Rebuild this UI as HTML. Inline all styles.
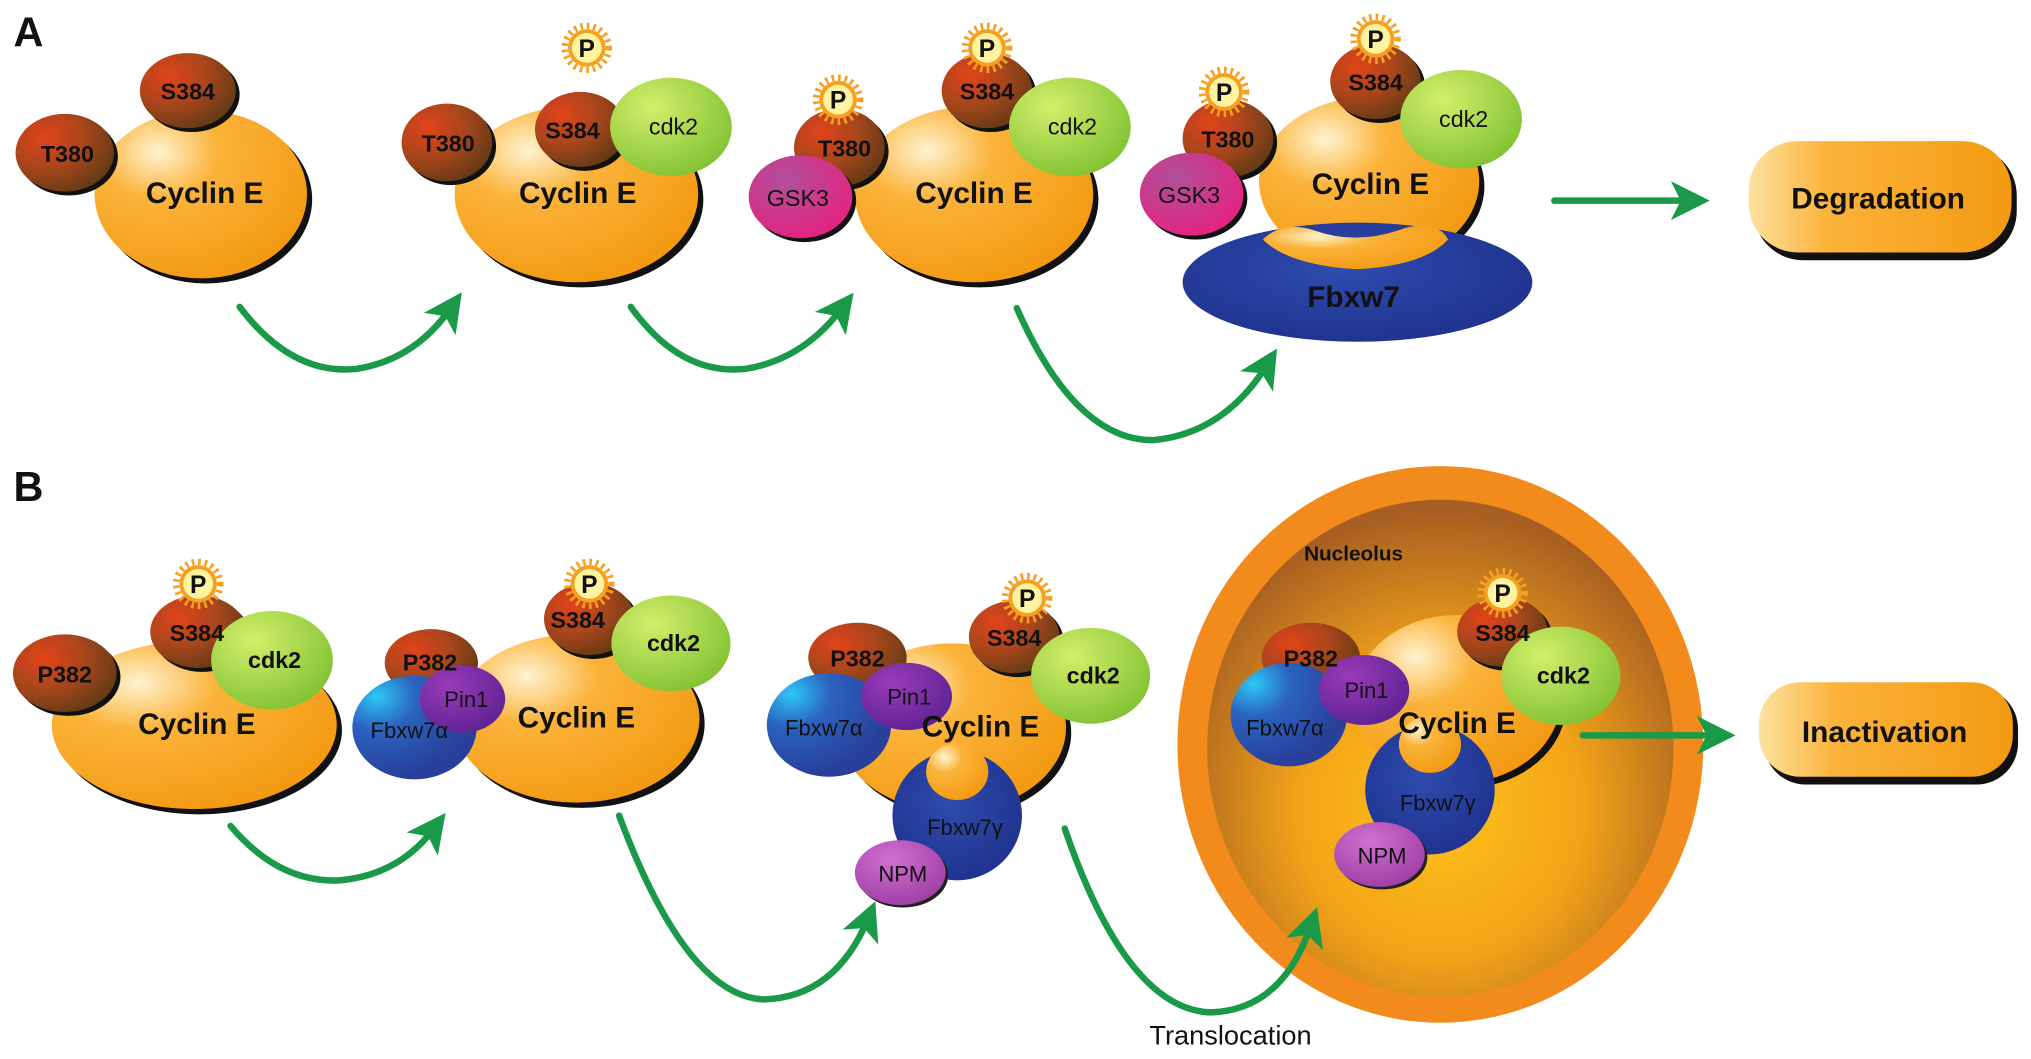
<!DOCTYPE html>
<html><head><meta charset="utf-8"><style>
html,body{margin:0;padding:0;background:#fff;}
svg{display:block;}
text{font-family:"Liberation Sans",sans-serif;font-weight:bold;fill:#111;text-anchor:middle;}
</style></head><body>
<svg width="2031" height="1059" viewBox="0 0 1568 818" preserveAspectRatio="none" xmlns="http://www.w3.org/2000/svg">
<defs>
<radialGradient id="cy" cx="0.3" cy="0.25" r="0.8"><stop offset="0" stop-color="#fff3d0"/><stop offset="0.35" stop-color="#fbb33a"/><stop offset="1" stop-color="#f39a12"/></radialGradient>
<radialGradient id="br" cx="0.3" cy="0.3" r="0.8"><stop offset="0" stop-color="#e2431a"/><stop offset="0.5" stop-color="#a8461c"/><stop offset="1" stop-color="#5e3a14"/></radialGradient>
<radialGradient id="gr" cx="0.35" cy="0.3" r="0.8"><stop offset="0" stop-color="#d4ee6a"/><stop offset="1" stop-color="#7cc030"/></radialGradient>
<radialGradient id="mg" cx="0.35" cy="0.3" r="0.8"><stop offset="0" stop-color="#b0509a"/><stop offset="1" stop-color="#e8207e"/></radialGradient>
<radialGradient id="bl" cx="0.45" cy="0.4" r="0.7"><stop offset="0" stop-color="#2e4cae"/><stop offset="1" stop-color="#1d2f8a"/></radialGradient>
<radialGradient id="fa" cx="0.2" cy="0.2" r="0.8"><stop offset="0" stop-color="#2ec8f4"/><stop offset="0.4" stop-color="#2b62c0"/><stop offset="1" stop-color="#28409a"/></radialGradient>
<radialGradient id="pu" cx="0.35" cy="0.3" r="0.8"><stop offset="0" stop-color="#9a3ab8"/><stop offset="1" stop-color="#5a2290"/></radialGradient>
<radialGradient id="np" cx="0.4" cy="0.3" r="0.8"><stop offset="0" stop-color="#d070d0"/><stop offset="1" stop-color="#9a3aa0"/></radialGradient>
<radialGradient id="nu" cx="0.5" cy="0.62" r="0.6"><stop offset="0" stop-color="#ffc21a"/><stop offset="0.5" stop-color="#f2a418"/><stop offset="1" stop-color="#a65e22"/></radialGradient>
<linearGradient id="pill" x1="0" y1="0" x2="1" y2="0"><stop offset="0" stop-color="#fde2a0"/><stop offset="0.3" stop-color="#fbb33a"/><stop offset="1" stop-color="#f39a12"/></linearGradient>
<marker id="ah" markerWidth="6" markerHeight="6" refX="3" refY="3" orient="auto" markerUnits="strokeWidth"><path d="M0,0 L6,3 L0,6 L1.5,3 Z" fill="#1a9a48"/></marker>
</defs>

<text x="22" y="36" style="font-size:32px;font-weight:bold">A</text>
<text x="22" y="387" style="font-size:32px;font-weight:bold">B</text>

<!-- A1 -->
<ellipse cx="159" cy="154" rx="82" ry="65" fill="#111"/>
<ellipse cx="155" cy="150" rx="82" ry="65" fill="url(#cy)"/>
<ellipse cx="148" cy="73" rx="37" ry="29" fill="#111"/><ellipse cx="145" cy="70" rx="37" ry="29" fill="url(#br)"/>
<ellipse cx="53" cy="121" rx="38" ry="30" fill="#111"/><ellipse cx="50" cy="118" rx="38" ry="30" fill="url(#br)"/>
<text x="145" y="77" font-size="18">S384</text><text x="52" y="125" font-size="18">T380</text>
<text x="158" y="157" font-size="23">Cyclin E</text>

<!-- A2 -->
<ellipse cx="449" cy="154" rx="94" ry="68" fill="#111"/><ellipse cx="445" cy="150" rx="94" ry="68" fill="url(#cy)"/>
<ellipse cx="451" cy="103" rx="35" ry="29" fill="#111"/><ellipse cx="448" cy="100" rx="35" ry="29" fill="url(#br)"/>
<ellipse cx="348" cy="113" rx="35" ry="30" fill="#111"/><ellipse cx="345" cy="110" rx="35" ry="30" fill="url(#br)"/>
<ellipse cx="518" cy="98" rx="47" ry="38" fill="url(#gr)"/>
<text x="442" y="107" font-size="18">S384</text><text x="346" y="117" font-size="18">T380</text><text x="520" y="104" font-size="18" style="font-weight:normal">cdk2</text>
<text x="446" y="157" font-size="23">Cyclin E</text>

<!-- A3 -->
<ellipse cx="756" cy="154" rx="92" ry="68" fill="#111"/><ellipse cx="752" cy="150" rx="92" ry="68" fill="url(#cy)"/>
<ellipse cx="765" cy="73" rx="35" ry="29" fill="#111"/><ellipse cx="762" cy="70" rx="35" ry="29" fill="url(#br)"/>
<ellipse cx="651" cy="117" rx="35" ry="30" fill="#111"/><ellipse cx="648" cy="114" rx="35" ry="30" fill="url(#br)"/>
<ellipse cx="826" cy="98" rx="47" ry="38" fill="url(#gr)"/>
<ellipse cx="621" cy="155" rx="40" ry="32" fill="#111"/><ellipse cx="618" cy="152" rx="40" ry="32" fill="url(#mg)"/>
<text x="762" y="77" font-size="18">S384</text><text x="652" y="121" font-size="18">T380</text><text x="828" y="104" font-size="18" style="font-weight:normal">cdk2</text>
<text x="616" y="159" font-size="18" style="font-weight:normal">GSK3</text>
<text x="752" y="157" font-size="23">Cyclin E</text>

<!-- A4 -->
<ellipse cx="1061" cy="144" rx="85" ry="65" fill="#111"/><ellipse cx="1057" cy="140" rx="85" ry="65" fill="url(#cy)"/>
<ellipse cx="1048" cy="218" rx="135" ry="46" fill="url(#bl)"/>
<path d="M975,185 Q990,170 1015,178 Q1048,190 1085,176 Q1110,170 1118,185 Q1100,205 1048,208 Q995,205 975,185 Z" fill="url(#cy)"/>
<ellipse cx="1065" cy="66" rx="35" ry="29" fill="#111"/><ellipse cx="1062" cy="63" rx="35" ry="29" fill="url(#br)"/>
<ellipse cx="951" cy="110" rx="35" ry="30" fill="#111"/><ellipse cx="948" cy="107" rx="35" ry="30" fill="url(#br)"/>
<ellipse cx="1128" cy="92" rx="47" ry="38" fill="url(#gr)"/>
<ellipse cx="923" cy="153" rx="40" ry="32" fill="#111"/><ellipse cx="920" cy="150" rx="40" ry="32" fill="url(#mg)"/>
<text x="1062" y="70" font-size="18">S384</text><text x="948" y="114" font-size="18">T380</text><text x="1130" y="98" font-size="18" style="font-weight:normal">cdk2</text>
<text x="918" y="157" font-size="18" style="font-weight:normal">GSK3</text>
<text x="1058" y="150" font-size="23">Cyclin E</text>
<text x="1045" y="237" font-size="23">Fbxw7</text>

<!-- pills -->
<rect x="1354" y="113" width="203" height="88" rx="38" fill="#111"/>
<rect x="1350" y="109" width="203" height="86" rx="38" fill="url(#pill)"/>
<text x="1450" y="161" font-size="23">Degradation</text>
<rect x="1362" y="531" width="196" height="75" rx="32" fill="#111"/>
<rect x="1358" y="527" width="196" height="73" rx="32" fill="url(#pill)"/>
<text x="1455" y="573" font-size="23">Inactivation</text>

<!-- B1 -->
<ellipse cx="154" cy="564" rx="110" ry="65" fill="#111"/><ellipse cx="150" cy="560" rx="110" ry="65" fill="url(#cy)"/>
<ellipse cx="156" cy="491" rx="37" ry="28" fill="#111"/><ellipse cx="153" cy="488" rx="37" ry="28" fill="url(#br)"/>
<ellipse cx="53" cy="523" rx="40" ry="30" fill="#111"/><ellipse cx="50" cy="520" rx="40" ry="30" fill="url(#br)"/>
<ellipse cx="210" cy="510" rx="47" ry="38" fill="url(#gr)"/>
<text x="152" y="495" font-size="18">S384</text><text x="50" y="527" font-size="18">P382</text><text x="212" y="516" font-size="18">cdk2</text>
<text x="152" y="567" font-size="23">Cyclin E</text>

<!-- B2 -->
<ellipse cx="449" cy="559" rx="95" ry="65" fill="#111"/><ellipse cx="445" cy="555" rx="95" ry="65" fill="url(#cy)"/>
<ellipse cx="458" cy="481" rx="35" ry="28" fill="#111"/><ellipse cx="455" cy="478" rx="35" ry="28" fill="url(#br)"/>
<ellipse cx="518" cy="497" rx="46" ry="37" fill="url(#gr)"/>
<ellipse cx="333" cy="512" rx="36" ry="26" fill="url(#br)"/>
<ellipse cx="320" cy="562" rx="48" ry="40" fill="url(#fa)"/>
<ellipse cx="357" cy="540" rx="33" ry="26" fill="url(#pu)"/>
<text x="446" y="485" font-size="18">S384</text><text x="332" y="518" font-size="18">P382</text><text x="520" y="503" font-size="18">cdk2</text>
<text x="360" y="546" font-size="17" style="font-weight:normal">Pin1</text><text x="316" y="570" font-size="17" style="font-weight:normal">Fbxw7α</text>
<text x="445" y="562" font-size="23">Cyclin E</text>

<!-- B3 -->
<ellipse cx="739" cy="566" rx="88" ry="65" fill="#111"/><ellipse cx="735" cy="562" rx="88" ry="65" fill="url(#cy)"/>
<ellipse cx="786" cy="495" rx="35" ry="28" fill="#111"/><ellipse cx="783" cy="492" rx="35" ry="28" fill="url(#br)"/>
<ellipse cx="842" cy="522" rx="46" ry="37" fill="url(#gr)"/>
<ellipse cx="662" cy="508" rx="38" ry="27" fill="url(#br)"/>
<ellipse cx="640" cy="560" rx="48" ry="40" fill="url(#fa)"/>
<ellipse cx="700" cy="538" rx="35" ry="26" fill="url(#pu)"/>
<circle cx="739" cy="630" r="50" fill="url(#bl)"/>
<ellipse cx="739" cy="596" rx="24" ry="22" fill="url(#cy)"/>
<ellipse cx="697" cy="676" rx="35" ry="25" fill="#222"/><ellipse cx="695" cy="674" rx="35" ry="25" fill="url(#np)"/>
<text x="783" y="499" font-size="18">S384</text><text x="662" y="515" font-size="18">P382</text><text x="844" y="528" font-size="18">cdk2</text>
<text x="702" y="544" font-size="17" style="font-weight:normal">Pin1</text><text x="636" y="568" font-size="17" style="font-weight:normal">Fbxw7α</text>
<text x="757" y="569" font-size="23">Cyclin E</text>
<text x="745" y="645" font-size="17" style="font-weight:normal">Fbxw7γ</text><text x="697" y="681" font-size="17" style="font-weight:normal">NPM</text>

<!-- Nucleolus -->
<ellipse cx="1112" cy="575" rx="203" ry="215" fill="#f28a1c"/>
<ellipse cx="1112" cy="578" rx="180" ry="192" fill="url(#nu)"/>
<text x="1045" y="433" font-size="16">Nucleolus</text>
<ellipse cx="1129" cy="544" rx="80" ry="65" fill="#111"/><ellipse cx="1125" cy="540" rx="80" ry="65" fill="url(#cy)"/>
<ellipse cx="1163" cy="491" rx="35" ry="27" fill="#111"/><ellipse cx="1160" cy="488" rx="35" ry="27" fill="url(#br)"/>
<ellipse cx="1205" cy="522" rx="46" ry="38" fill="url(#gr)"/>
<ellipse cx="1012" cy="508" rx="38" ry="27" fill="url(#br)"/>
<ellipse cx="995" cy="552" rx="45" ry="40" fill="url(#fa)"/>
<ellipse cx="1053" cy="533" rx="35" ry="27" fill="url(#pu)"/>
<circle cx="1104" cy="610" r="50" fill="url(#bl)"/>
<ellipse cx="1104" cy="575" rx="24" ry="22" fill="url(#cy)"/>
<ellipse cx="1067" cy="662" rx="35" ry="25" fill="#222"/><ellipse cx="1065" cy="660" rx="35" ry="25" fill="url(#np)"/>
<text x="1160" y="495" font-size="18">S384</text><text x="1012" y="515" font-size="18">P382</text><text x="1207" y="528" font-size="18">cdk2</text>
<text x="1055" y="539" font-size="17" style="font-weight:normal">Pin1</text><text x="992" y="568" font-size="17" style="font-weight:normal">Fbxw7α</text>
<text x="1125" y="566" font-size="23">Cyclin E</text>
<text x="1110" y="626" font-size="17" style="font-weight:normal">Fbxw7γ</text><text x="1067" y="667" font-size="17" style="font-weight:normal">NPM</text>

<text x="950" y="807" font-size="21" style="font-weight:normal">Translocation</text>

<!-- P suns -->
<g fill="#fff3a0" stroke="#f5a020">
<circle cx="453" cy="37" r="13" stroke-width="3"/><circle cx="453" cy="37" r="17" fill="none" stroke-width="5" stroke-dasharray="2 3"/>
<circle cx="762" cy="37" r="13" stroke-width="3"/><circle cx="762" cy="37" r="17" fill="none" stroke-width="5" stroke-dasharray="2 3"/>
<circle cx="647" cy="77" r="13" stroke-width="3"/><circle cx="647" cy="77" r="17" fill="none" stroke-width="5" stroke-dasharray="2 3"/>
<circle cx="1062" cy="30" r="13" stroke-width="3"/><circle cx="1062" cy="30" r="17" fill="none" stroke-width="5" stroke-dasharray="2 3"/>
<circle cx="945" cy="71" r="13" stroke-width="3"/><circle cx="945" cy="71" r="17" fill="none" stroke-width="5" stroke-dasharray="2 3"/>
<circle cx="153" cy="451" r="13" stroke-width="3"/><circle cx="153" cy="451" r="17" fill="none" stroke-width="5" stroke-dasharray="2 3"/>
<circle cx="455" cy="451" r="13" stroke-width="3"/><circle cx="455" cy="451" r="17" fill="none" stroke-width="5" stroke-dasharray="2 3"/>
<circle cx="793" cy="462" r="13" stroke-width="3"/><circle cx="793" cy="462" r="17" fill="none" stroke-width="5" stroke-dasharray="2 3"/>
<circle cx="1160" cy="458" r="13" stroke-width="3"/><circle cx="1160" cy="458" r="17" fill="none" stroke-width="5" stroke-dasharray="2 3"/>
</g>
<g font-size="19">
<text x="453" y="44">P</text><text x="762" y="44">P</text><text x="647" y="84">P</text><text x="1062" y="37">P</text><text x="945" y="78">P</text>
<text x="153" y="458">P</text><text x="455" y="458">P</text><text x="793" y="469">P</text><text x="1160" y="465">P</text>
</g>

<!-- arrows -->
<g fill="none" stroke="#1a9a48" stroke-width="5" stroke-linecap="round">
<path d="M185,237 Q225,290 275,285 Q320,278 348,238" marker-end="url(#ah)"/>
<path d="M487,237 Q525,290 575,285 Q620,278 650,238" marker-end="url(#ah)"/>
<path d="M785,238 Q830,340 890,340 Q945,335 978,282" marker-end="url(#ah)"/>
<path d="M1200,155 L1305,155" marker-end="url(#ah)"/>
<path d="M1222,568 L1325,568" marker-end="url(#ah)"/>
<path d="M178,638 Q215,682 262,680 Q308,676 335,640" marker-end="url(#ah)"/>
<path d="M478,630 Q530,770 590,772 Q645,770 670,710" marker-end="url(#ah)"/>
<path d="M822,640 Q870,780 935,782 Q990,780 1012,715" marker-end="url(#ah)"/>
</g>
</svg>
</body></html>
